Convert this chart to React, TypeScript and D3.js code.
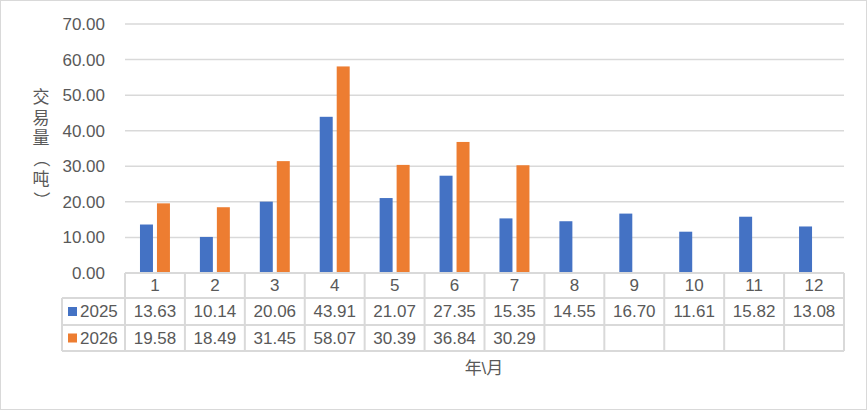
import React from "react";
import * as d3 from "d3";

const months = ["1", "2", "3", "4", "5", "6", "7", "8", "9", "10", "11", "12"];
const seriesNames = ["2025", "2026"];
const values2025 = [13.63, 10.14, 20.06, 43.91, 21.07, 27.35, 15.35, 14.55, 16.7, 11.61, 15.82, 13.08];
const values2026 = [19.58, 18.49, 31.45, 58.07, 30.39, 36.84, 30.29];
const yTicks = [0, 10, 20, 30, 40, 50, 60, 70];
const colors = ["#4472C4", "#ED7D31"];
const yTitleChars = ["交", "易", "量", "（", "吨", "）"];

const W = 867;
const H = 410;
const left = 125;
const right = 844;
const top = 24;
const bottom = 273;
const rowLines = [273, 298, 325, 351];
const tableLeft = 62;
const textColor = "#595959";
const gridColor = "#d9d9d9";
const font = "'Liberation Sans', Arial, 'Noto Sans CJK SC', sans-serif";

export default function App() {
  const x = d3.scaleBand<string>().domain(months).range([left, right]).paddingInner(0).paddingOuter(0);
  const xSub = d3
    .scaleBand<string>()
    .domain(seriesNames)
    .range([0, x.bandwidth()])
    .paddingInner(4 / 17)
    .paddingOuter(0.882);
  const y = d3.scaleLinear().domain([0, 70]).range([bottom, top]);
  const data = [values2025, values2026];
  const fmt = d3.format(".2f");

  return (
    <svg
      width={W}
      height={H}
      style={{ position: "absolute", left: 0, top: 0, background: "#fff" }}
      fontFamily={font}
    >
      <rect x={0.5} y={0.5} width={W - 1} height={H - 1} fill="#fff" stroke={gridColor} />
      {yTicks.map((t) => (
        <line key={t} x1={left} x2={right} y1={y(t)} y2={y(t)} stroke={gridColor} strokeWidth={1.5} />
      ))}
      {yTicks.map((t) => (
        <text
          key={"l" + t}
          x={105}
          y={y(t)}
          dy="0.35em"
          textAnchor="end"
          fontSize={17}
          fill={textColor}
        >
          {fmt(t)}
        </text>
      ))}
      {data.map((vals, si) =>
        vals.map((v, i) => (
          <rect
            key={si + "-" + i}
            x={(x(months[i]) as number) + (xSub(seriesNames[si]) as number)}
            y={y(v)}
            width={xSub.bandwidth()}
            height={bottom - y(v)}
            fill={colors[si]}
          />
        ))
      )}
      <line x1={left} x2={right} y1={rowLines[0]} y2={rowLines[0]} stroke={gridColor} strokeWidth={2} />
      {rowLines.slice(1).map((r) => (
        <line key={r} x1={tableLeft} x2={right} y1={r} y2={r} stroke={gridColor} strokeWidth={2} />
      ))}
      <line x1={tableLeft} x2={tableLeft} y1={rowLines[1]} y2={rowLines[3]} stroke={gridColor} strokeWidth={2} />
      {months.map((m) => (
        <line
          key={"v" + m}
          x1={x(m) as number}
          x2={x(m) as number}
          y1={rowLines[0]}
          y2={rowLines[3]}
          stroke={gridColor}
          strokeWidth={2}
        />
      ))}
      <line x1={right} x2={right} y1={rowLines[0]} y2={rowLines[3]} stroke={gridColor} strokeWidth={2} />
      {months.map((m) => (
        <text
          key={"m" + m}
          x={(x(m) as number) + x.bandwidth() / 2}
          y={(rowLines[0] + rowLines[1]) / 2}
          dy="0.35em"
          textAnchor="middle"
          fontSize={17}
          fill={textColor}
        >
          {m}
        </text>
      ))}
      {data.map((vals, si) => {
        const cy = (rowLines[si + 1] + rowLines[si + 2]) / 2;
        return (
          <g key={"row" + si}>
            <rect x={68} y={cy - 4.5} width={9} height={9} fill={colors[si]} />
            <text x={80} y={cy} dy="0.35em" fontSize={17} fill={textColor}>
              {seriesNames[si]}
            </text>
            {vals.map((v, i) => (
              <text
                key={i}
                x={(x(months[i]) as number) + x.bandwidth() / 2}
                y={cy}
                dy="0.35em"
                textAnchor="middle"
                fontSize={17}
                fill={textColor}
              >
                {fmt(v)}
              </text>
            ))}
          </g>
        );
      })}
      <text x={484} y={368} dy="0.35em" textAnchor="middle" fontSize={17} fill={textColor}>
        年\月
      </text>
      {yTitleChars.map((c, i) => {
        const cy = 97 + i * 20.6;
        const isParen = c === "（" || c === "）";
        return (
          <text
            key={"t" + i}
            x={41}
            y={cy}
            dy="0.35em"
            textAnchor="middle"
            fontSize={17}
            fontFamily="'Noto Sans CJK SC', sans-serif"
            fill={textColor}
            transform={isParen ? `rotate(90 41 ${cy})` : undefined}
          >
            {c}
          </text>
        );
      })}
    </svg>
  );
}
